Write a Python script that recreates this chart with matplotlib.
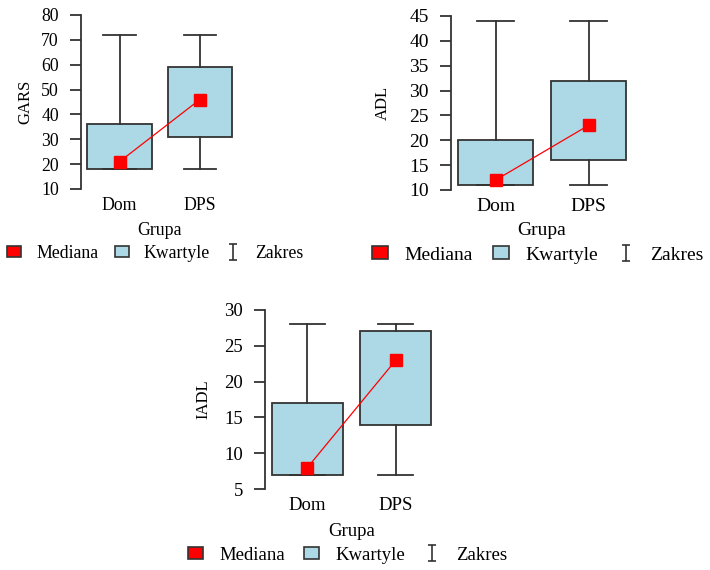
import matplotlib
matplotlib.use("Agg")
import matplotlib.pyplot as plt
from matplotlib.lines import Line2D
from matplotlib.patches import Patch
from matplotlib.path import Path

plt.rcParams['font.family'] = ['Liberation Serif', 'DejaVu Serif']
plt.rcParams['font.size'] = 13

groups = ["Dom", "DPS"]

gars_min = [18, 18]
gars_q1 = [18, 31]
gars_med = [21, 46]
gars_q3 = [36, 59]
gars_max = [72, 72]

adl_min = [11, 11]
adl_q1 = [11, 16]
adl_med = [12, 23]
adl_q3 = [20, 32]
adl_max = [44, 44]

iadl_min = [7, 7]
iadl_q1 = [7, 14]
iadl_med = [8, 23]
iadl_q3 = [17, 27]
iadl_max = [28, 28]

W, H = 710, 570
fig = plt.figure(figsize=(W / 100, H / 100), dpi=100)

edge = '#333333'
box_fill = '#ADD8E6'

# I-shaped marker for the range entry
range_marker = Path([(-0.5, 1), (0.5, 1), (0, 1), (0, -1), (-0.5, -1), (0.5, -1)],
                    [Path.MOVETO, Path.LINETO, Path.MOVETO, Path.LINETO, Path.MOVETO, Path.LINETO])


def px_axes(x0, x1, y0, y1):
    # pixel box (left, right, top, bottom) -> figure fraction
    return fig.add_axes([x0 / W, 1 - y1 / H, (x1 - x0) / W, (y1 - y0) / H])


def panel(ax, ylabel, lo, q1, med, q3, hi, ylim, yticks, ylab_x, legend_xy, fs,
          colsp, lab_y):
    stats = []
    for i, g in enumerate(groups):
        stats.append(dict(label=g, whislo=lo[i], q1=q1[i], med=med[i], q3=q3[i], whishi=hi[i]))
    pos = [1, 2]
    ax.bxp(stats, positions=pos, widths=0.8, capwidths=0.4, patch_artist=True,
           showfliers=False,
           boxprops=dict(facecolor=box_fill, edgecolor=edge, linewidth=1.3),
           whiskerprops=dict(color=edge, linewidth=1.3),
           capprops=dict(color=edge, linewidth=1.3),
           medianprops=dict(visible=False))
    ax.plot(pos, med, color='red', linewidth=0.9, marker='s', markersize=9,
            markerfacecolor='red', markeredgecolor='red', zorder=5)

    ax.set_xlim(0.52, 2.5)
    ax.set_ylim(*ylim)
    ax.set_yticks(yticks)
    for s in ['top', 'right', 'bottom']:
        ax.spines[s].set_visible(False)
    ax.spines['left'].set_color(edge)
    ax.spines['left'].set_linewidth(1.3)
    ax.tick_params(axis='y', length=8, width=1.3, color=edge, pad=8, labelsize=fs)
    ax.tick_params(axis='x', length=0, pad=6, labelsize=fs)

    ax.set_ylabel(ylabel, fontsize=12)
    ax.yaxis.label.set_va('center')
    ax.yaxis.set_label_coords(ylab_x, 0.5)
    ax.set_xlabel("Grupa", fontsize=fs)
    ax.xaxis.set_label_coords(0.495, lab_y)
    ax.xaxis.label.set_va('center')

    handles = [
        Patch(facecolor='red', edgecolor=edge, linewidth=1.2),
        Patch(facecolor=box_fill, edgecolor=edge, linewidth=1.2),
        Line2D([], [], linestyle='none', marker=range_marker, markersize=11,
               color=edge, markeredgewidth=1.2),
    ]
    fig.legend(handles, ["Mediana", "Kwartyle", "Zakres"], ncol=3, frameon=False,
               loc='center', bbox_to_anchor=(legend_xy[0] / W, 1 - legend_xy[1] / H),
               fontsize=fs, handlelength=0.8, handleheight=0.6, handletextpad=0.85,
               columnspacing=colsp, borderpad=0.1)


ax1 = px_axes(81, 240, 15, 189)
panel(ax1, "GARS", gars_min, gars_q1, gars_med, gars_q3, gars_max,
      (10, 80), range(10, 81, 10), -0.35, (155.5, 253), 12.8, 0.9, -0.24)

ax2 = px_axes(451, 635, 16, 190)
panel(ax2, "ADL", adl_min, adl_q1, adl_med, adl_q3, adl_max,
      (10, 45), range(10, 46, 5), -0.37, (538, 255), 14, 1.05, -0.23)

ax3 = px_axes(265, 440, 310, 489)
panel(ax3, "IADL", iadl_min, iadl_q1, iadl_med, iadl_q3, iadl_max,
      (5, 30), range(5, 31, 5), -0.354, (347.5, 555), 13.5, 1.05, -0.235)

fig.savefig("out.png", dpi=100)
